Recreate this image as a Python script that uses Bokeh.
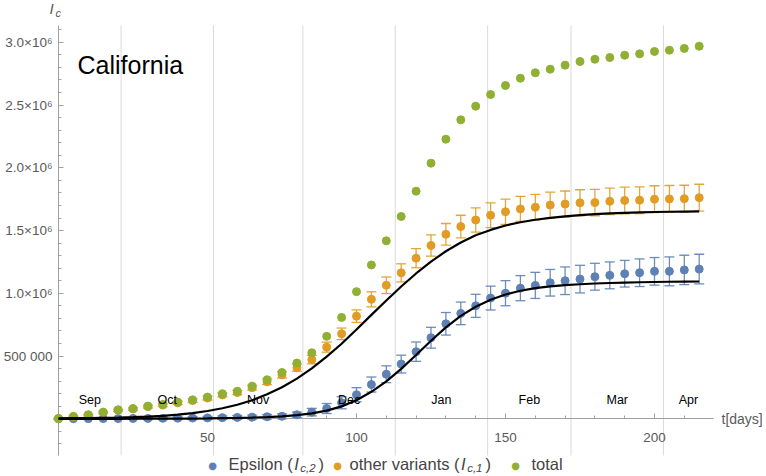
import numpy as np
from bokeh.plotting import figure
from bokeh.models import ColumnDataSource, Range1d, FixedTicker, Whisker, TeeHead, Label
from bokeh.core.properties import value
from bokeh.embed import file_html
from bokeh.resources import INLINE

# ---------------- data (values in millions of cases) ----------------
days = [0, 5, 10, 15, 20, 25, 30, 35, 40, 45, 50, 55, 60, 65, 70, 75, 80, 85, 90, 95,
        100, 105, 110, 115, 120, 125, 130, 135, 140, 145, 150, 155, 160, 165, 170, 175,
        180, 185, 190, 195, 200, 205, 210, 215]

epsilon_M = [0.000, 0.001, 0.001, 0.002, 0.002, 0.003, 0.003, 0.004, 0.005, 0.006,
             0.007, 0.009, 0.011, 0.013, 0.016, 0.020, 0.032, 0.053, 0.082, 0.128,
             0.192, 0.273, 0.355, 0.436, 0.535, 0.646, 0.757, 0.840, 0.900, 0.962,
             1.001, 1.041, 1.063, 1.084, 1.100, 1.113, 1.132, 1.143, 1.156, 1.164,
             1.175, 1.175, 1.186, 1.193]
epsilon_err_M = [0.003, 0.004, 0.005, 0.006, 0.007, 0.008, 0.009, 0.010, 0.011, 0.012,
                 0.013, 0.014, 0.015, 0.016, 0.018, 0.020, 0.022, 0.030, 0.040, 0.048,
                 0.056, 0.060, 0.067, 0.071, 0.077, 0.083, 0.090, 0.090, 0.092, 0.095,
                 0.100, 0.100, 0.104, 0.106, 0.110, 0.110, 0.107, 0.107, 0.106, 0.110,
                 0.110, 0.115, 0.117, 0.118]

other_M = [0.002, 0.017, 0.030, 0.050, 0.068, 0.078, 0.097, 0.109, 0.127, 0.145,
           0.165, 0.190, 0.209, 0.248, 0.295, 0.350, 0.407, 0.472, 0.571, 0.677,
           0.818, 0.952, 1.064, 1.163, 1.280, 1.381, 1.470, 1.532, 1.584, 1.622,
           1.650, 1.672, 1.686, 1.703, 1.711, 1.721, 1.723, 1.733, 1.740, 1.742,
           1.750, 1.752, 1.754, 1.762]
other_err_M = [0.002, 0.004, 0.006, 0.008, 0.009, 0.010, 0.011, 0.012, 0.013, 0.014,
               0.015, 0.016, 0.017, 0.019, 0.022, 0.025, 0.028, 0.034, 0.040, 0.046,
               0.050, 0.060, 0.066, 0.072, 0.076, 0.085, 0.086, 0.090, 0.096, 0.098,
               0.100, 0.100, 0.102, 0.103, 0.104, 0.104, 0.105, 0.105, 0.106, 0.106,
               0.107, 0.107, 0.107, 0.107]

total_M = [0.002, 0.019, 0.032, 0.053, 0.072, 0.082, 0.101, 0.114, 0.133, 0.151,
           0.173, 0.200, 0.220, 0.260, 0.311, 0.369, 0.444, 0.526, 0.657, 0.808,
           1.013, 1.226, 1.418, 1.612, 1.814, 2.037, 2.228, 2.382, 2.491, 2.584,
           2.656, 2.714, 2.757, 2.786, 2.818, 2.847, 2.865, 2.879, 2.897, 2.908,
           2.927, 2.937, 2.951, 2.969]

# fitted curves at the same days
fit_epsilon_M = [0.000, 0.000, 0.000, 0.000, 0.000, 0.001, 0.001, 0.001, 0.002, 0.002,
                 0.003, 0.005, 0.007, 0.010, 0.014, 0.020, 0.029, 0.043, 0.065, 0.099,
                 0.148, 0.215, 0.298, 0.398, 0.508, 0.622, 0.728, 0.820, 0.893, 0.948,
                 0.990, 1.020, 1.041, 1.055, 1.065, 1.072, 1.078, 1.082, 1.085, 1.088,
                 1.090, 1.092, 1.093, 1.094]
fit_other_M = [0.004, 0.005, 0.006, 0.008, 0.010, 0.013, 0.018, 0.024, 0.033, 0.045,
               0.062, 0.084, 0.112, 0.148, 0.195, 0.252, 0.320, 0.402, 0.495, 0.598,
               0.712, 0.828, 0.943, 1.054, 1.158, 1.252, 1.335, 1.405, 1.462, 1.505,
               1.540, 1.566, 1.586, 1.601, 1.613, 1.623, 1.631, 1.637, 1.641, 1.645,
               1.648, 1.650, 1.651, 1.652]

# axis ticks and month annotations (day 0 = 10 Sep 2020)
xticks = [50, 100, 150, 200]
yticks = [0, 500000, 1000000, 1500000, 2000000, 2500000, 3000000]
ytick_labels = ["", "500 000", "1.0×10⁶", "1.5×10⁶", "2.0×10⁶", "2.5×10⁶", "3.0×10⁶"]
month_names = ["Sep", "Oct", "Nov", "Dec", "Jan", "Feb", "Mar", "Apr"]
month_starts = [21, 52, 82, 113, 144, 172, 203]

series_names = ["Epsilon", "other variants", "total"]
series_subscripts = ["c,2", "c,1", None]

# ---------------- styling / layout ----------------
BLUE, ORANGE, GREEN = "#5E81B5", "#E19C24", "#8FB032"
FONT = "Liberation Sans"
W, H = 766, 476
# frame covers the whole canvas; pixel mapping of the plotted region
X0_PX, PX_PER_DAY = 58.0, 2.98          # day 0 at x = 58 px
Y0_PX, PX_PER_UNIT = 418.3, 125.5e-6    # value 0 at y = 418.3 px
X_AXIS_END = 219.8                       # right end of the time axis (days)
Y_AXIS_LO, Y_AXIS_HI = -0.292e6, 3.134e6  # extent of the vertical axis


def px2x(px):
    return (px - X0_PX) / PX_PER_DAY


def px2y(py):
    return (Y0_PX - py) / PX_PER_UNIT


M = 1e6
d = np.array(days, dtype=float)
eps = np.array(epsilon_M) * M
eps_e = np.array(epsilon_err_M) * M
oth = np.array(other_M) * M
oth_e = np.array(other_err_M) * M
tot = np.array(total_M) * M

p = figure(width=W, height=H, output_backend="svg", toolbar_location=None,
           x_range=Range1d(px2x(0), px2x(W)), y_range=Range1d(px2y(H), px2y(0)),
           min_border=0, min_border_left=0, min_border_right=0, min_border_top=0,
           min_border_bottom=0, title=None, background_fill_color="white",
           border_fill_color="white", outline_line_color=None)

AX = "#a0a0a0"
LBL = "#5a5a5a"
for ax in (p.xaxis[0], p.yaxis[0]):
    ax.fixed_location = 0
    ax.axis_line_color = AX
    ax.major_tick_line_color = AX
    ax.minor_tick_line_color = AX
    ax.major_tick_in = 5
    ax.major_tick_out = 0
    ax.minor_tick_in = 3
    ax.minor_tick_out = 0
    ax.major_label_text_color = LBL
    ax.major_label_text_font = FONT

p.xaxis.bounds = (0, X_AXIS_END)
p.xaxis.ticker = FixedTicker(ticks=xticks, minor_ticks=[t for t in range(10, 220, 10) if t not in xticks])
p.xaxis.major_label_text_font_size = "13.5px"
p.xaxis.major_label_standoff = 14

p.yaxis.bounds = (Y_AXIS_LO, Y_AXIS_HI)
p.yaxis.ticker = FixedTicker(ticks=yticks,
                             minor_ticks=[k * 100000 for k in range(-2, 32) if k % 5 != 0])
p.yaxis.major_label_overrides = {t: s for t, s in zip(yticks, ytick_labels)}
p.yaxis.major_label_text_font_size = "13.5px"
p.yaxis.major_label_standoff = 6

p.xgrid.visible = False
p.ygrid.visible = False

# month grid lines
p.segment(x0=month_starts, x1=month_starts, y0=[Y_AXIS_LO] * len(month_starts),
          y1=[Y_AXIS_HI] * len(month_starts), line_color="#dadada", line_width=1,
          level="image")

# error bars
for y, e, c in ((eps, eps_e, BLUE), (oth, oth_e, ORANGE)):
    src = ColumnDataSource(dict(x=d, upper=y + e, lower=y - e))
    w = Whisker(source=src, base="x", upper="upper", lower="lower", dimension="height",
                line_color=c, line_width=1.3, line_alpha=0.9, level="underlay",
                upper_head=TeeHead(size=10, line_color=c, line_width=1.3, line_alpha=0.9),
                lower_head=TeeHead(size=10, line_color=c, line_width=1.3, line_alpha=0.9))
    p.add_layout(w)

# points
p.scatter(d, eps, size=8, fill_color=BLUE, line_color=BLUE, level="overlay")
p.scatter(d, oth, size=8, fill_color=ORANGE, line_color=ORANGE, level="overlay")
p.scatter(d, tot, size=8, fill_color=GREEN, line_color=GREEN, level="overlay")

# fits
p.line(d, np.array(fit_other_M) * M, line_color="black", line_width=2.2, level="overlay")
p.line(d, np.array(fit_epsilon_M) * M, line_color="black", line_width=2.2, level="overlay")

# month labels, centred on the visible part of each month
bounds = [0] + month_starts + [X_AXIS_END]
month_x = [(bounds[i] + bounds[i + 1]) / 2 for i in range(len(month_names))]
p.text(x=month_x, y=[1.46e5] * len(month_x), text=month_names, text_align="center",
       text_baseline="middle", text_font=value(FONT), text_font_size=value("12.5px"),
       text_color="black", level="overlay")

# titles and axis labels
p.add_layout(Label(x=px2x(77), y=px2y(64), text="California", text_font=FONT,
                   text_font_size="25px", text_baseline="middle", text_color="black"))
p.add_layout(Label(x=px2x(721), y=0, text="t[days]", text_font=FONT,
                   text_font_size="14px", text_baseline="middle", text_color=LBL))
p.add_layout(Label(x=px2x(49), y=px2y(8), text="I", text_font=FONT, text_font_style="italic",
                   text_font_size="15px", text_baseline="middle", text_color=LBL))
p.add_layout(Label(x=px2x(55), y=px2y(12), text="c", text_font=FONT, text_font_style="italic",
                   text_font_size="11px", text_baseline="middle", text_color=LBL))

# legend
EM = {"E": .667, "p": .556, "s": .5, "i": .222, "l": .222, "o": .556, "n": .556, " ": .278,
      "(": .333, ")": .333, "t": .278, "h": .556, "e": .556, "r": .333, "v": .5, "a": .556,
      "I": .278, "c": .5, ",": .278, "1": .556, "2": .556}


def tw(s, size):
    return sum(EM.get(ch, .556) for ch in s) * size


LEG_Y = px2y(463)
LS = 16.5
SS = 11.5
dot_px = [212, 337, 515]
text_gap = [16, 12, 16]
for name, sub, c, xpos, gap in zip(series_names, series_subscripts, (BLUE, ORANGE, GREEN),
                                   dot_px, text_gap):
    p.add_layout(Label(x=px2x(xpos), y=px2y(465), text="●", text_font="DejaVu Sans",
                       text_font_size="10px", text_align="center", text_baseline="middle",
                       text_color=c))
    tx = xpos + gap
    if sub is None:
        p.add_layout(Label(x=px2x(tx), y=LEG_Y, text=name, text_font=FONT,
                           text_font_size=f"{LS}px", text_baseline="middle"))
    else:
        head = name + " ("
        p.add_layout(Label(x=px2x(tx), y=LEG_Y, text=head, text_font=FONT,
                           text_font_size=f"{LS}px", text_baseline="middle"))
        tx += tw(head, LS) + 1.5
        p.add_layout(Label(x=px2x(tx), y=LEG_Y, text="I", text_font=FONT,
                           text_font_style="italic", text_font_size=f"{LS}px",
                           text_baseline="middle"))
        tx += tw("I", LS) + 1.5
        p.add_layout(Label(x=px2x(tx), y=px2y(467), text=sub, text_font=FONT,
                           text_font_style="italic", text_font_size=f"{SS}px",
                           text_baseline="middle"))
        tx += tw(sub, SS) + 3
        p.add_layout(Label(x=px2x(tx), y=LEG_Y, text=")", text_font=FONT,
                           text_font_size=f"{LS}px", text_baseline="middle"))

open("out.html", "w").write(file_html(p, INLINE))
